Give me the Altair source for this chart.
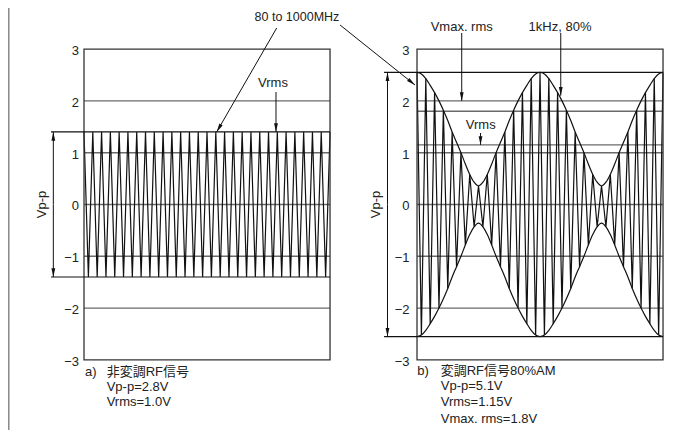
import math
import altair as alt
import pandas as pd

# ---------------- data ----------------
tick_values = [3, 2, 1, 0, -1, -2, -3]
tick_labels = ["3", "2", "1", "0", "\u22121", "\u22122", "\u22123"]

grid_a = [2, 1, 0, -1, -2]               # panel a) grid lines
grid_b = [2, 1.8, 1.15, 1, 0, -1, -2]    # panel b) grid lines (incl. Vmax.rms, Vrms)
peak_a = 1.4                             # Vp-p = 2.8 V
peak_b = 2.55                            # Vp-p = 5.1 V

# carrier amplitude at each half-cycle vertex (28 carrier cycles per panel)
carrier_a = [1.4] * 57
# panel b) envelope at each half-cycle vertex (1 kHz, 80 % AM: two envelope periods)
envelope_b = [2.55, 2.52, 2.43, 2.30, 2.16, 2.00, 1.82, 1.62, 1.40, 1.20, 1.00, 0.78, 0.58, 0.43, 0.36,
              0.43, 0.58, 0.78, 1.00, 1.20, 1.40, 1.62, 1.82, 2.00, 2.16, 2.30, 2.43, 2.52, 2.55,
              2.52, 2.43, 2.30, 2.16, 2.00, 1.82, 1.62, 1.40, 1.20, 1.00, 0.78, 0.58, 0.43, 0.36,
              0.43, 0.58, 0.78, 1.00, 1.20, 1.40, 1.62, 1.82, 2.00, 2.16, 2.30, 2.43, 2.52, 2.55]

caption_a = ["非変調RF信号", "Vp-p=2.8V", "Vrms=1.0V"]
caption_b = ["変調RF信号80%AM", "Vp-p=5.1V", "Vrms=1.15V", "Vmax. rms=1.8V"]

# ---------------- layout ----------------
W, H = 669, 422
XMIN, XMAX = -8.65, 67.49      # x in carrier cycles
YMIN, YMAX = -4.353, 3.793     # y in volts
SX = W / (XMAX - XMIN)
SY = H / (YMAX - YMIN)
SPAN = 28.0                    # panel width in carrier cycles
OFF_B = 37.9                   # start of panel b)
FONT = "Liberation Sans, Noto Sans CJK JP, sans-serif"
INK = "#222222"

xs = alt.Scale(domain=[XMIN, XMAX], nice=False, zero=False)
ys = alt.Scale(domain=[YMIN, YMAX], nice=False, zero=False)


def X(f="x"):
    return alt.X(f"{f}:Q", scale=xs, axis=None)


def Y(f="y"):
    return alt.Y(f"{f}:Q", scale=ys, axis=None)


# ---------------- tables ----------------
wave_rows, env_rows = [], []
for k, a in enumerate(carrier_a):
    wave_rows.append({"x": k * 0.5, "y": a if k % 2 == 0 else -a, "s": "a", "i": k})
for k, e in enumerate(envelope_b):
    wave_rows.append({"x": OFF_B + k * 0.5, "y": e if k % 2 == 0 else -e, "s": "b", "i": k})
    env_rows.append({"x": OFF_B + k * 0.5, "y": e, "s": "up", "i": k})
    env_rows.append({"x": OFF_B + k * 0.5, "y": -e, "s": "lo", "i": k})
wave_df = pd.DataFrame(wave_rows)
env_df = pd.DataFrame(env_rows)

grid_df = pd.DataFrame(
    [{"x": 0, "x2": SPAN, "y": g} for g in grid_a]
    + [{"x": OFF_B, "x2": OFF_B + SPAN, "y": g} for g in grid_b]
)
peak_df = pd.DataFrame([
    {"x": -3.76, "x2": SPAN, "y": peak_a},
    {"x": -3.76, "x2": SPAN, "y": -peak_a},
    {"x": OFF_B - 3.75, "x2": OFF_B + SPAN, "y": peak_b},
    {"x": OFF_B - 3.75, "x2": OFF_B + SPAN, "y": -peak_b},
])
frame_df = pd.DataFrame([
    {"x": 0, "x2": SPAN, "y": -3, "y2": 3},
    {"x": OFF_B, "x2": OFF_B + SPAN, "y": -3, "y2": 3},
])
border_df = pd.DataFrame([{"x": -8.59, "y": YMIN, "y2": YMAX}])

# arrows: (x1, y1) -> (x2, y2), head at (x2, y2)
arrows = [
    (21.93, 3.407, 15.10, peak_a),              # 80 to 1000MHz -> a)
    (29.14, 3.465, 37.67, 2.307),               # 80 to 1000MHz -> b)
    (21.85, 2.172, 21.85, peak_a),              # Vrms a)
    (42.99, 3.311, 42.99, 2.0),                 # Vmax. rms
    (54.26, 3.311, 54.26, 2.1),                 # 1kHz, 80%
    (45.13, 1.38, 45.13, 1.15),                 # Vrms b)
    (-3.49, 0, -3.49, peak_a), (-3.49, 0, -3.49, -peak_a),                       # Vp-p a)
    (OFF_B - 3.36, 0, OFF_B - 3.36, peak_b), (OFF_B - 3.36, 0, OFF_B - 3.36, -peak_b),  # Vp-p b)
]
shaft_rows, head_rows = [], []
for x1, y1, x2, y2 in arrows:
    shaft_rows.append({"x": x1, "y": y1, "x2": x2, "y2": y2})
    dxp = (x2 - x1) * SX
    dyp = -(y2 - y1) * SY
    ang = math.degrees(math.atan2(-dxp, dyp)) % 360
    head_rows.append({"x": x2, "y": y2, "angle": ang})
shaft_df = pd.DataFrame(shaft_rows)
head_df = pd.DataFrame(head_rows)

ticks_df = pd.DataFrame(
    [{"x": -0.57, "y": v, "t": t} for v, t in zip(tick_values, tick_labels)]
    + [{"x": OFF_B - 0.85, "y": v, "t": t} for v, t in zip(tick_values, tick_labels)]
)
annot_df = pd.DataFrame([
    {"x": 21.51, "y": 2.346, "t": "Vrms"},
    {"x": 42.99, "y": 3.432, "t": "Vmax. rms"},
    {"x": 54.18, "y": 3.432, "t": "1kHz, 80%"},
    {"x": 45.15, "y": 1.535, "t": "Vrms"},
])
mhz_df = pd.DataFrame([{"x": 24.24, "y": 3.625, "t": "80 to 1000MHz"}])
vpp_df = pd.DataFrame([
    {"x": -4.78, "y": 0.0, "t": "Vp-p"},
    {"x": OFF_B - 4.67, "y": 0.0, "t": "Vp-p"},
])
rows_a = [-3.228, -3.517, -3.807]
rows_b = [-3.208, -3.498, -3.819, -4.141]
cap_df = pd.DataFrame(
    [{"x": 0.11, "y": rows_a[0], "t": "a)"}]
    + [{"x": 2.58, "y": yy, "t": t} for yy, t in zip(rows_a, caption_a)]
    + [{"x": OFF_B + 0.03, "y": rows_b[0], "t": "b)"}]
    + [{"x": OFF_B + 2.70, "y": yy, "t": t} for yy, t in zip(rows_b, caption_b)]
)

# ---------------- layers ----------------
border = alt.Chart(border_df).mark_rule(color="#8a8a8a", strokeWidth=2).encode(
    x=X(), y=Y(), y2="y2:Q")
grid = alt.Chart(grid_df).mark_rule(color="#6a6a6a", strokeWidth=1.4).encode(
    x=X(), x2="x2:Q", y=Y())
waves = alt.Chart(wave_df).mark_line(color="#111111", strokeWidth=1.2).encode(
    x=X(), y=Y(), detail="s:N", order="i:Q")
envs = alt.Chart(env_df).mark_line(color="#111111", strokeWidth=1.2, interpolate="monotone").encode(
    x=X(), y=Y(), detail="s:N", order="i:Q")
frames = alt.Chart(frame_df).mark_rect(fillOpacity=0, stroke="#333333", strokeWidth=1.3).encode(
    x=X(), x2="x2:Q", y=Y(), y2="y2:Q")
peaks = alt.Chart(peak_df).mark_rule(color="#111111", strokeWidth=1.2).encode(
    x=X(), x2="x2:Q", y=Y())
shafts = alt.Chart(shaft_df).mark_rule(color="#111111", strokeWidth=1.0).encode(
    x=X(), x2="x2:Q", y=Y(), y2="y2:Q")
heads = alt.Chart(head_df).mark_point(
    shape="M0,0L-0.22,-1L0.22,-1Z", filled=True, color="#111111", opacity=1, size=300
).encode(x=X(), y=Y(), angle=alt.Angle("angle:Q", scale=None))

ticks = alt.Chart(ticks_df).mark_text(align="right", baseline="middle", dy=2, fontSize=13,
                                      font=FONT, color=INK).encode(x=X(), y=Y(), text="t:N")
annots = alt.Chart(annot_df).mark_text(align="center", baseline="middle", fontSize=13,
                                       font=FONT, color=INK).encode(x=X(), y=Y(), text="t:N")
mhz = alt.Chart(mhz_df).mark_text(align="center", baseline="middle", fontSize=12.5,
                                  font=FONT, color=INK).encode(x=X(), y=Y(), text="t:N")
vpp = alt.Chart(vpp_df).mark_text(align="center", baseline="middle", angle=270, fontSize=13,
                                  font=FONT, color=INK).encode(x=X(), y=Y(), text="t:N")
caps = alt.Chart(cap_df).mark_text(align="left", baseline="middle", fontSize=13,
                                   font=FONT, color=INK).encode(x=X(), y=Y(), text="t:N")

chart = alt.layer(
    border, grid, waves, envs, frames, peaks, shafts, heads, ticks, annots, mhz, vpp, caps
).properties(
    width=W, height=H, padding=0, autosize=alt.AutoSizeParams(type="none"),
    background="white"
).configure_view(stroke=None)

chart.save("out.html", embed_options={"renderer": "svg", "actions": False})
